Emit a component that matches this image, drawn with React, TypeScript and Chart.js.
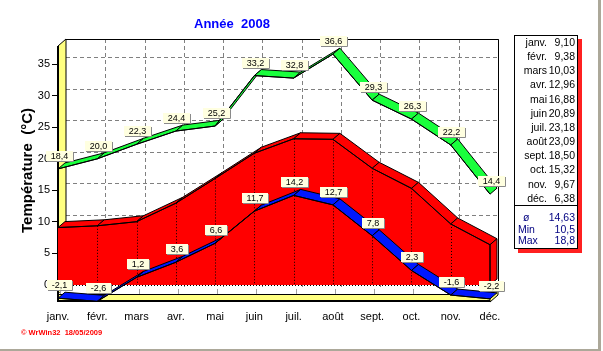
import React, { useEffect, useRef } from 'react';
import { Chart, registerables } from 'chart.js';

Chart.register(...registerables);

const months = ['janv.', 'févr.', 'mars', 'avr.', 'mai', 'juin', 'juil.', 'août', 'sept.', 'oct.', 'nov.', 'déc.'];
const maxTemps = [18.4, 20.0, 22.3, 24.4, 25.2, 33.2, 32.8, 36.6, 29.3, 26.3, 22.2, 14.4];
const meanTemps = [9.1, 9.38, 10.03, 12.96, 16.88, 20.89, 23.18, 23.09, 18.5, 15.32, 9.67, 6.38];
const minTemps = [-2.1, -2.6, 1.2, 3.6, 6.6, 11.7, 14.2, 12.7, 7.8, 2.3, -1.6, -2.2];
const yTicks = [0, 5, 10, 15, 20, 25, 30, 35];
const yMin = -2.7;
const yMax = 39;
const chartTitle = 'Année  2008';
const yTitle = 'Température  (°C)';
const statLabels = ['ø', 'Min', 'Max'];
const statValues = ['14,63', '10,5', '18,8'];
const footnote = '© WrWin32  18/05/2009';

const FONT = '"Liberation Sans", Arial, sans-serif';
const GREEN = '#19ff3c';
const RED = '#ff0000';
const BLUE = '#0018ff';
const YELLOW = '#ffff80';
const WALL = { dx: 8, dy: -7 };
const RIB = { dx: 7, dy: -6 };

const fmt1 = (v: number) => v.toFixed(1).replace('.', ',');
const fmt2 = (v: number) => v.toFixed(2).replace('.', ',');

function ribbon(ctx: CanvasRenderingContext2D, pts: { x: number; y: number }[], color: string) {
  ctx.save();
  ctx.fillStyle = color;
  ctx.strokeStyle = '#000';
  ctx.lineWidth = 1;
  ctx.lineJoin = 'round';
  for (let i = 0; i < pts.length - 1; i++) {
    const a = pts[i];
    const b = pts[i + 1];
    ctx.beginPath();
    ctx.moveTo(a.x, a.y);
    ctx.lineTo(b.x, b.y);
    ctx.lineTo(b.x + RIB.dx, b.y + RIB.dy);
    ctx.lineTo(a.x + RIB.dx, a.y + RIB.dy);
    ctx.closePath();
    ctx.fill();
    ctx.stroke();
  }
  ctx.restore();
}

function drawLabel(ctx: CanvasRenderingContext2D, text: string, cx: number, bottom: number) {
  ctx.save();
  ctx.font = `9px ${FONT}`;
  const w = Math.ceil(ctx.measureText(text).width) + 9;
  const h = 10;
  const x0 = Math.round(cx - w / 2);
  const y0 = Math.round(bottom - h);
  ctx.fillStyle = '#ffffe0';
  ctx.fillRect(x0, y0, w, h);
  ctx.strokeStyle = '#8a8a8a';
  ctx.lineWidth = 1;
  ctx.beginPath();
  ctx.moveTo(x0 + w + 0.5, y0 + 1);
  ctx.lineTo(x0 + w + 0.5, y0 + h + 0.5);
  ctx.lineTo(x0 + 1, y0 + h + 0.5);
  ctx.stroke();
  ctx.fillStyle = '#000';
  ctx.textAlign = 'center';
  ctx.textBaseline = 'middle';
  ctx.fillText(text, x0 + w / 2, y0 + h / 2 + 0.5);
  ctx.restore();
}

const deco3d = {
  id: 'deco3d',
  beforeDatasetsDraw(chart: any) {
    const ctx: CanvasRenderingContext2D = chart.ctx;
    const { left, right, top, bottom } = chart.chartArea;
    const xs = chart.scales.x;
    const ys = chart.scales.y;
    const y0 = ys.getPixelForValue(0);
    const { dx, dy } = WALL;
    ctx.save();
    // back wall grid
    ctx.strokeStyle = '#808080';
    ctx.lineWidth = 1;
    ctx.setLineDash([4, 3]);
    ctx.beginPath();
    yTicks.forEach((v) => {
      if (v <= 0) return;
      const py = Math.round(ys.getPixelForValue(v) + dy) + 0.5;
      ctx.moveTo(left + dx, py);
      ctx.lineTo(right + dx, py);
    });
    for (let i = 1; i < months.length; i++) {
      const px = Math.round(xs.getPixelForValue(i) + dx) + 0.5;
      ctx.moveTo(px, top);
      ctx.lineTo(px, y0 + dy + 9);
    }
    ctx.stroke();
    ctx.setLineDash([]);
    // back wall border
    ctx.strokeStyle = '#000';
    ctx.beginPath();
    ctx.moveTo(left + dx, top + 0.5);
    ctx.lineTo(right + dx + 0.5, top + 0.5);
    ctx.lineTo(right + dx + 0.5, y0 + dy + 9);
    ctx.stroke();
    // left wall
    ctx.fillStyle = YELLOW;
    ctx.beginPath();
    ctx.moveTo(left, top - dy);
    ctx.lineTo(left + dx, top);
    ctx.lineTo(left + dx, y0 + 9 + dy);
    ctx.lineTo(left, y0 + 9);
    ctx.closePath();
    ctx.fill();
    ctx.stroke();
    // floor: top surface
    ctx.fillStyle = '#ffffff';
    ctx.beginPath();
    ctx.moveTo(left, y0 + 9);
    ctx.lineTo(left + dx, y0 + 9 + dy);
    ctx.lineTo(right + dx, y0 + 9 + dy);
    ctx.lineTo(right, y0 + 9);
    ctx.closePath();
    ctx.fill();
    // floor tick marks
    ctx.strokeStyle = '#a0a0a0';
    ctx.beginPath();
    for (let i = 0; i < months.length; i++) {
      const px = Math.round(xs.getPixelForValue(i) + 2) + 0.5;
      ctx.moveTo(px, y0 + 4);
      ctx.lineTo(px, y0 + 9);
    }
    ctx.stroke();
    // floor front face
    ctx.fillStyle = YELLOW;
    ctx.fillRect(left, y0 + 9, right - left, bottom - (y0 + 9));
    ctx.beginPath();
    ctx.moveTo(right, y0 + 9);
    ctx.lineTo(right + dx, y0 + 9 + dy);
    ctx.lineTo(right + dx, bottom + dy);
    ctx.lineTo(right, bottom);
    ctx.closePath();
    ctx.fill();
    ctx.strokeStyle = '#000';
    ctx.stroke();
    ctx.beginPath();
    ctx.moveTo(left, Math.round(y0 + 9) + 0.5);
    ctx.lineTo(right, Math.round(y0 + 9) + 0.5);
    ctx.stroke();
    ctx.lineWidth = 2;
    ctx.beginPath();
    ctx.moveTo(left, bottom - 1);
    ctx.lineTo(right, bottom - 1);
    ctx.stroke();
    // dotted zero line
    ctx.lineWidth = 1;
    ctx.setLineDash([1, 2]);
    ctx.beginPath();
    ctx.moveTo(left, Math.round(y0) + 0.5);
    ctx.lineTo(right, Math.round(y0) + 0.5);
    ctx.stroke();
    ctx.setLineDash([]);
    // front axis line
    ctx.lineWidth = 2;
    ctx.beginPath();
    ctx.moveTo(left, top - dy);
    ctx.lineTo(left, bottom);
    ctx.stroke();
    ctx.restore();
  },
  beforeDatasetDraw(chart: any, args: any) {
    const ctx: CanvasRenderingContext2D = chart.ctx;
    const pts = args.meta.data.map((p: any) => ({ x: p.x, y: p.y }));
    const ds = chart.data.datasets[args.index];
    const y0 = chart.scales.y.getPixelForValue(0);
    if (ds.label === 'moyenne') {
      ribbon(ctx, pts, RED);
      const last = pts[pts.length - 1];
      ctx.save();
      ctx.fillStyle = RED;
      ctx.strokeStyle = '#000';
      ctx.beginPath();
      ctx.moveTo(last.x, last.y);
      ctx.lineTo(last.x + RIB.dx, last.y + RIB.dy);
      ctx.lineTo(last.x + RIB.dx, y0 + RIB.dy);
      ctx.lineTo(last.x, y0);
      ctx.closePath();
      ctx.fill();
      ctx.stroke();
      ctx.restore();
    } else if (ds.label === 'max') {
      ribbon(ctx, pts, GREEN);
    } else if (ds.label === 'min') {
      ribbon(ctx, pts, BLUE);
    }
  },
  afterDatasetDraw(chart: any, args: any) {
    const ds = chart.data.datasets[args.index];
    if (ds.label !== 'moyenne') return;
    const ctx: CanvasRenderingContext2D = chart.ctx;
    const y0 = chart.scales.y.getPixelForValue(0);
    const pts = args.meta.data;
    ctx.save();
    ctx.strokeStyle = '#000';
    ctx.lineWidth = 1;
    ctx.setLineDash([1, 2]);
    ctx.beginPath();
    for (let i = 1; i < pts.length - 1; i++) {
      const px = Math.round(pts[i].x) + 0.5;
      ctx.moveTo(px, pts[i].y);
      ctx.lineTo(px, y0);
    }
    ctx.stroke();
    ctx.setLineDash([]);
    const last = pts[pts.length - 1];
    ctx.beginPath();
    ctx.moveTo(last.x, last.y);
    ctx.lineTo(last.x, y0);
    ctx.stroke();
    ctx.restore();
  },
  afterDatasetsDraw(chart: any) {
    const ctx: CanvasRenderingContext2D = chart.ctx;
    chart.data.datasets.forEach((ds: any, di: number) => {
      if (ds.label === 'moyenne') return;
      const meta = chart.getDatasetMeta(di);
      meta.data.forEach((p: any, i: number) => {
        drawLabel(ctx, fmt1(ds.data[i]), p.x + 1, p.y - 8);
      });
    });
  },
};

export default function App() {
  const canvasRef = useRef<HTMLCanvasElement>(null);

  useEffect(() => {
    const canvas = canvasRef.current;
    if (!canvas) return;
    const chart = new Chart(canvas, {
      type: 'line',
      data: {
        labels: months,
        datasets: [
          {
            label: 'max',
            data: maxTemps,
            borderColor: '#000',
            borderWidth: 1,
            pointRadius: 0,
            fill: false,
            tension: 0,
          },
          {
            label: 'min',
            data: minTemps,
            borderColor: '#000',
            borderWidth: 1,
            pointRadius: 0,
            fill: false,
            tension: 0,
          },
          {
            label: 'moyenne',
            data: meanTemps,
            borderColor: '#000',
            backgroundColor: RED,
            borderWidth: 1,
            pointRadius: 0,
            fill: 'origin',
            tension: 0,
          },
        ],
      },
      options: {
        animation: false,
        responsive: false,
        devicePixelRatio: 1,
        layout: { padding: { top: 39, right: 113, bottom: 0, left: 0 } },
        plugins: {
          legend: { display: false },
          tooltip: { enabled: false },
          title: { display: false },
        },
        scales: {
          x: {
            type: 'category',
            offset: false,
            grid: { display: false, drawTicks: false },
            border: { display: false },
            ticks: {
              color: '#000',
              font: { family: FONT, size: 11 },
              padding: 8,
              maxRotation: 0,
              autoSkip: false,
            },
            afterFit: (s: any) => {
              s.height = 49;
            },
          },
          y: {
            type: 'linear',
            min: yMin,
            max: yMax,
            afterBuildTicks: (s: any) => {
              s.ticks = yTicks.map((v) => ({ value: v }));
            },
            grid: {
              drawOnChartArea: false,
              drawTicks: true,
              tickLength: 6,
              color: '#000',
            },
            border: { display: false },
            ticks: {
              color: '#000',
              font: { family: FONT, size: 11 },
              padding: 2,
              callback: (v: any) => String(v),
            },
            title: {
              display: true,
              text: yTitle,
              color: '#000',
              font: { family: FONT, size: 15, weight: 'bold' },
              padding: { top: 19, bottom: 0 },
            },
            afterFit: (s: any) => {
              s.width = 58;
            },
          },
        },
      },
      plugins: [deco3d],
    });
    return () => chart.destroy();
  }, []);

  const rowH = 14.15;

  return (
    <div style={{ position: 'absolute', left: 0, top: 0, width: 603, height: 351, background: '#fff', overflow: 'hidden' }}>
      <div
        style={{
          position: 'absolute',
          left: 0,
          top: 0,
          width: 601,
          height: 351,
          boxSizing: 'border-box',
          borderRight: '3px solid #aca899',
          borderBottom: '2px solid #aca899',
        }}
      />
      <canvas ref={canvasRef} width={603} height={351} style={{ position: 'absolute', left: 0, top: 0 }} />
      <div
        style={{
          position: 'absolute',
          left: 194,
          top: 16,
          font: `bold 13px ${FONT}`,
          lineHeight: '15px',
          color: '#0000ff',
          whiteSpace: 'pre',
        }}
      >
        {chartTitle}
      </div>
      <div
        style={{
          position: 'absolute',
          left: 514,
          top: 35,
          width: 64,
          height: 214,
          boxSizing: 'border-box',
          border: '1px solid #000',
          background: '#fff',
          boxShadow: '4px 4px 0 #ff2020',
          font: `10.5px ${FONT}`,
          color: '#000',
        }}
      >
        {months.map((m, i) => (
          <div key={m} style={{ position: 'absolute', left: 0, top: i * rowH - 1, width: 62, height: 14, lineHeight: '14px' }}>
            <span style={{ position: 'absolute', right: 30, top: 0 }}>{m}</span>
            <span style={{ position: 'absolute', right: 2, top: 0 }}>{fmt2(meanTemps[i])}</span>
          </div>
        ))}
        <div style={{ position: 'absolute', left: 0, top: 169, width: 62, height: 0, borderTop: '1px solid #000' }} />
        {statLabels.map((s, i) => (
          <div key={s} style={{ position: 'absolute', left: 0, top: 175 + i * 11.7, width: 62, height: 12, lineHeight: '12px', color: '#000080' }}>
            <span style={{ position: 'absolute', left: i === 0 ? 8 : 3, top: 0 }}>{s}</span>
            <span style={{ position: 'absolute', right: 2, top: 0 }}>{statValues[i]}</span>
          </div>
        ))}
      </div>
      <div
        style={{
          position: 'absolute',
          left: 21,
          top: 328,
          font: `bold 7.5px ${FONT}`,
          lineHeight: '9px',
          color: '#ff0000',
          whiteSpace: 'pre',
        }}
      >
        {footnote}
      </div>
    </div>
  );
}
